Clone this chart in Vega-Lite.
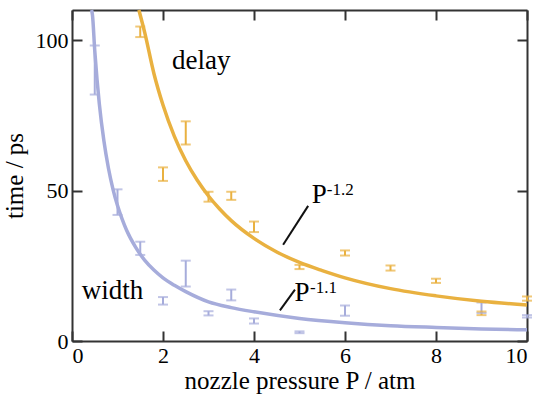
{
  "$schema": "https://vega.github.io/schema/vega-lite/v6.json",
  "width": 455,
  "height": 331,
  "autosize": {"type": "none"},
  "padding": {"left": 72, "top": 10, "right": 25, "bottom": 60},
  "background": "white",
  "config": {
    "view": {"stroke": null},
    "axis": {
      "domainColor": "#333333", "domainWidth": 2,
      "tickColor": "#333333", "tickWidth": 2, "tickSize": -10,
      "grid": false,
      "labelFont": "Liberation Serif", "labelFontSize": 22, "labelColor": "#000000",
      "titleFont": "Liberation Serif", "titleFontSize": 25, "titleFontWeight": "normal", "titleColor": "#000000"
    }
  },
  "datasets": {
    "bars": [
      {"series": "delay", "P": 1.5, "lo": 101, "hi": 104.5},
      {"series": "delay", "P": 2.0, "lo": 53.2, "hi": 57.7},
      {"series": "delay", "P": 2.5, "lo": 65.3, "hi": 73.0},
      {"series": "delay", "P": 3.0, "lo": 46.3, "hi": 49.6},
      {"series": "delay", "P": 3.5, "lo": 46.9, "hi": 49.6},
      {"series": "delay", "P": 4.0, "lo": 36.2, "hi": 39.7},
      {"series": "delay", "P": 5.0, "lo": 23.9, "hi": 25.3},
      {"series": "delay", "P": 6.0, "lo": 28.4, "hi": 30.1},
      {"series": "delay", "P": 7.0, "lo": 23.4, "hi": 25.1},
      {"series": "delay", "P": 8.0, "lo": 19.3, "hi": 20.7},
      {"series": "delay", "P": 9.0, "lo": 8.6, "hi": 9.8},
      {"series": "delay", "P": 10.0, "lo": 13.4, "hi": 14.8},
      {"series": "width", "P": 0.5, "lo": 81.9, "hi": 98.2},
      {"series": "width", "P": 1.0, "lo": 41.9, "hi": 50.4},
      {"series": "width", "P": 1.5, "lo": 28.6, "hi": 33.0},
      {"series": "width", "P": 2.0, "lo": 12.1, "hi": 14.6},
      {"series": "width", "P": 2.5, "lo": 18.1, "hi": 26.7},
      {"series": "width", "P": 3.0, "lo": 8.5, "hi": 9.9},
      {"series": "width", "P": 3.5, "lo": 13.5, "hi": 17.1},
      {"series": "width", "P": 4.0, "lo": 5.8, "hi": 7.5},
      {"series": "width", "P": 5.0, "lo": 2.6, "hi": 3.2},
      {"series": "width", "P": 6.0, "lo": 8.4, "hi": 11.8},
      {"series": "width", "P": 9.0, "lo": 9.3, "hi": 12.8},
      {"series": "width", "P": 10.0, "lo": 7.8, "hi": 8.6}
    ],
    "curves": [
      {"series": "delay", "P": 1.47, "t": 110},
      {"series": "delay", "P": 1.6, "t": 102.4},
      {"series": "delay", "P": 1.8, "t": 88.9},
      {"series": "delay", "P": 2.0, "t": 78.4},
      {"series": "delay", "P": 2.25, "t": 68.0},
      {"series": "delay", "P": 2.5, "t": 59.9},
      {"series": "delay", "P": 2.75, "t": 53.5},
      {"series": "delay", "P": 3.0, "t": 48.2},
      {"series": "delay", "P": 3.25, "t": 43.8},
      {"series": "delay", "P": 3.5, "t": 40.0},
      {"series": "delay", "P": 4.0, "t": 34.1},
      {"series": "delay", "P": 4.5, "t": 29.6},
      {"series": "delay", "P": 5.0, "t": 26.1},
      {"series": "delay", "P": 5.5, "t": 23.4},
      {"series": "delay", "P": 6.0, "t": 21.0},
      {"series": "delay", "P": 7.0, "t": 17.4},
      {"series": "delay", "P": 8.0, "t": 15.0},
      {"series": "delay", "P": 9.0, "t": 13.2},
      {"series": "delay", "P": 10.0, "t": 12.0},
      {"series": "width", "P": 0.43, "t": 110},
      {"series": "width", "P": 0.45, "t": 108.3},
      {"series": "width", "P": 0.5, "t": 96.5},
      {"series": "width", "P": 0.55, "t": 86.9},
      {"series": "width", "P": 0.6, "t": 78.9},
      {"series": "width", "P": 0.7, "t": 66.6},
      {"series": "width", "P": 0.8, "t": 57.5},
      {"series": "width", "P": 0.9, "t": 50.5},
      {"series": "width", "P": 1.0, "t": 45.0},
      {"series": "width", "P": 1.1, "t": 40.6},
      {"series": "width", "P": 1.2, "t": 36.8},
      {"series": "width", "P": 1.4, "t": 31.1},
      {"series": "width", "P": 1.6, "t": 26.8},
      {"series": "width", "P": 1.8, "t": 23.6},
      {"series": "width", "P": 2.0, "t": 21.0},
      {"series": "width", "P": 2.25, "t": 18.5},
      {"series": "width", "P": 2.5, "t": 16.4},
      {"series": "width", "P": 3.0, "t": 13.0},
      {"series": "width", "P": 3.5, "t": 11.1},
      {"series": "width", "P": 4.0, "t": 9.7},
      {"series": "width", "P": 5.0, "t": 7.5},
      {"series": "width", "P": 6.0, "t": 6.1},
      {"series": "width", "P": 7.0, "t": 5.1},
      {"series": "width", "P": 8.0, "t": 4.5},
      {"series": "width", "P": 9.0, "t": 4.0},
      {"series": "width", "P": 10.0, "t": 3.7}
    ],
    "leaders": [
      {"label": "delay", "P": 4.64, "t": 32.0, "P2": 5.19, "t2": 44.9},
      {"label": "width", "P": 4.57, "t": 10.2, "P2": 4.9, "t2": 17.05}
    ],
    "bigtext": [
      {"txt": "delay", "P": 2.2, "t": 90.5},
      {"txt": "width", "P": 0.215, "t": 14.0},
      {"txt": "P", "P": 5.27, "t": 46.0},
      {"txt": "P", "P": 4.89, "t": 13.2}
    ],
    "suptext": [
      {"txt": "-1.2", "P": 5.6, "t": 48.6},
      {"txt": "-1.1", "P": 5.23, "t": 16.0}
    ]
  },
  "layer": [
    {
      "data": {"name": "bars"},
      "mark": {"type": "rule", "strokeWidth": 2},
      "encoding": {
        "x": {"field": "P", "type": "quantitative", "scale": {"domain": [0, 10], "nice": false},
              "axis": {"orient": "bottom", "values": [0, 2, 4, 6, 8, 10], "title": "nozzle pressure P / atm", "labelPadding": 14, "titlePadding": 2, "labelFont": "Liberation Serif", "titleFont": "Liberation Serif"}},
        "y": {"field": "lo", "type": "quantitative", "scale": {"domain": [0, 110], "nice": false},
              "axis": {"orient": "left", "values": [0, 50, 100], "title": "time / ps", "labelPadding": 14, "titlePadding": 8, "labelFont": "Liberation Serif", "titleFont": "Liberation Serif"}},
        "y2": {"field": "hi"},
        "color": {"field": "series", "type": "nominal", "scale": {"domain": ["delay", "width"], "range": ["#E9B140", "#A6ACDB"]}, "legend": null}
      }
    },
    {
      "data": {"name": "bars"},
      "mark": {"type": "tick", "orient": "horizontal", "size": 10, "thickness": 2},
      "encoding": {
        "x": {"field": "P", "type": "quantitative", "scale": {"domain": [0, 10], "nice": false},
              "axis": {"orient": "top", "values": [0, 2, 4, 6, 8, 10], "labels": false, "title": null}},
        "y": {"field": "lo", "type": "quantitative", "scale": {"domain": [0, 110], "nice": false},
              "axis": {"orient": "right", "values": [0, 50, 100], "labels": false, "title": null}},
        "color": {"field": "series", "type": "nominal", "legend": null}
      }
    },
    {
      "data": {"name": "bars"},
      "mark": {"type": "tick", "orient": "horizontal", "size": 10, "thickness": 2},
      "encoding": {
        "x": {"field": "P", "type": "quantitative", "axis": null},
        "y": {"field": "hi", "type": "quantitative", "axis": null},
        "color": {"field": "series", "type": "nominal", "legend": null}
      }
    },
    {
      "data": {"name": "curves"},
      "mark": {"type": "line", "strokeWidth": 3.5, "interpolate": "monotone"},
      "encoding": {
        "x": {"field": "P", "type": "quantitative", "axis": null},
        "y": {"field": "t", "type": "quantitative", "axis": null},
        "color": {"field": "series", "type": "nominal", "legend": null},
        "detail": {"field": "series"}
      }
    },
    {
      "data": {"name": "leaders"},
      "mark": {"type": "rule", "strokeWidth": 2, "color": "#111111"},
      "encoding": {
        "x": {"field": "P", "type": "quantitative", "axis": null},
        "y": {"field": "t", "type": "quantitative", "axis": null},
        "x2": {"field": "P2"},
        "y2": {"field": "t2"}
      }
    },
    {
      "data": {"name": "bigtext"},
      "mark": {"type": "text", "align": "left", "baseline": "alphabetic", "fontSize": 27, "color": "#000000", "font": "Liberation Serif"},
      "encoding": {
        "x": {"field": "P", "type": "quantitative", "axis": null},
        "y": {"field": "t", "type": "quantitative", "axis": null},
        "text": {"field": "txt"}
      }
    },
    {
      "data": {"name": "suptext"},
      "mark": {"type": "text", "align": "left", "baseline": "alphabetic", "fontSize": 17, "color": "#000000", "font": "Liberation Serif"},
      "encoding": {
        "x": {"field": "P", "type": "quantitative", "axis": null},
        "y": {"field": "t", "type": "quantitative", "axis": null},
        "text": {"field": "txt"}
      }
    }
  ],
  "resolve": {"axis": {"x": "independent", "y": "independent"}}
}
